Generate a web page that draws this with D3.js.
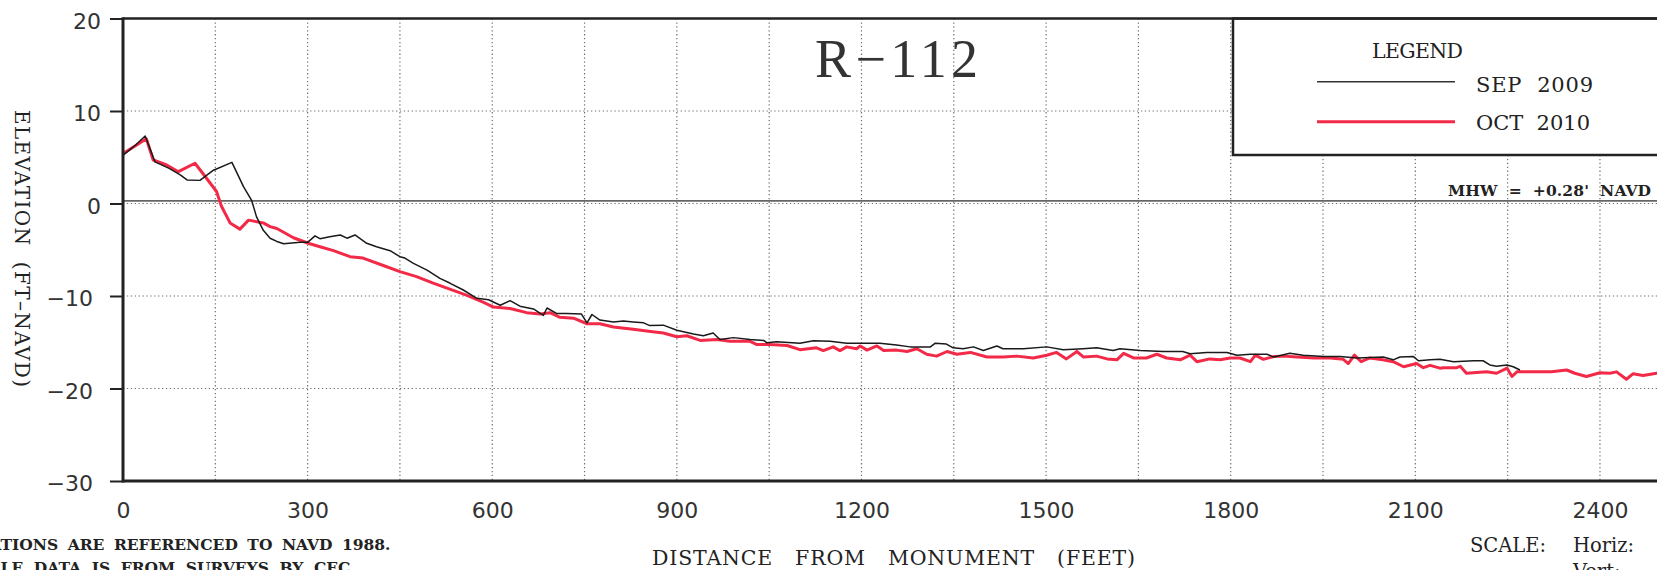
<!DOCTYPE html>
<html><head><meta charset="utf-8">
<script src="https://cdn.jsdelivr.net/npm/d3@7"></script>
<style>
html,body{margin:0;padding:0;background:#fff;overflow:hidden;}
svg{display:block;}
</style></head><body>
<svg id="chart" width="1657" height="570"></svg>
<script>
// ---------------- DATA ----------------
const sepDist = [0,20,36,52,75,93,104,125,147,177,196,209,217,228,239,250,261,288,300,312,320,336,353,364,377,396,412,434,450,458,472,494,515,531,553,575,594,613,629,645,667,683,689,705,721,745,754,762,775,797,813,829,846,856,878,900,927,943,959,970,992,1019,1041,1046,1062,1100,1122,1149,1176,1230,1257,1279,1312,1320,1338,1349,1365,1382,1398,1420,1430,1463,1501,1528,1560,1582,1609,1620,1653,1690,1722,1734,1761,1794,1810,1832,1859,1870,1896,1918,1951,1978,2005,2048,2064,2075,2097,2105,2124,2140,2162,2195,2210,2221,2232,2249,2259,2270];
const sepElev = [5.2,6.3,7.3,4.5,3.8,3.1,2.55,2.5,3.6,4.45,1.8,0.35,-1.45,-2.9,-3.76,-4.1,-4.35,-4.2,-4.2,-3.5,-3.8,-3.6,-3.4,-3.75,-3.4,-4.3,-4.67,-5.1,-5.75,-5.9,-6.47,-7.2,-8.1,-8.6,-9.35,-10.25,-10.4,-11.0,-10.5,-11.1,-11.4,-12.1,-11.3,-11.9,-11.9,-11.95,-12.9,-12.0,-12.6,-12.8,-12.7,-12.8,-12.9,-13.2,-13.15,-13.7,-14.1,-14.3,-14.0,-14.7,-14.5,-14.7,-14.8,-15.05,-14.95,-15.1,-14.85,-14.9,-15.1,-15.1,-15.3,-15.5,-15.5,-15.1,-15.2,-15.6,-15.7,-15.5,-15.9,-15.4,-15.7,-15.7,-15.5,-15.8,-15.7,-15.6,-15.9,-15.7,-15.9,-16.0,-16.0,-16.25,-16.1,-16.1,-16.4,-16.3,-16.3,-16.6,-16.2,-16.4,-16.55,-16.55,-16.7,-16.6,-16.9,-16.6,-16.55,-17.0,-16.9,-16.85,-17.1,-17.0,-17.0,-17.45,-17.6,-17.45,-17.65,-18.0];

const octDist = [0,17,38,49,71,90,117,136,152,160,174,190,204,228,239,250,277,301,320,342,369,390,423,450,477,504,531,558,586,602,629,656,678,694,710,732,754,775,797,829,854,878,900,916,938,965,986,1019,1030,1051,1079,1100,1127,1138,1154,1165,1176,1192,1198,1209,1225,1236,1257,1274,1290,1306,1322,1339,1355,1377,1404,1430,1452,1479,1501,1517,1533,1550,1561,1582,1599,1615,1626,1642,1663,1680,1696,1718,1734,1745,1766,1783,1799,1815,1832,1840,1853,1870,1886,1908,1935,1962,1983,1991,2001,2012,2026,2047,2064,2081,2102,2113,2124,2140,2146,2167,2173,2183,2216,2232,2249,2257,2265,2294,2321,2346,2359,2378,2400,2416,2427,2443,2454,2470,2492,2520];
const octElev = [5.4,6.1,7.0,4.7,4.16,3.44,4.35,2.7,1.3,-0.3,-2.1,-2.77,-1.8,-2.1,-2.5,-2.7,-3.7,-4.3,-4.67,-5.1,-5.75,-5.9,-6.7,-7.37,-7.9,-8.6,-9.25,-9.9,-10.7,-11.2,-11.35,-11.8,-11.95,-11.8,-12.3,-12.4,-13.0,-13.0,-13.35,-13.6,-13.8,-14.0,-14.4,-14.3,-14.8,-14.7,-14.9,-14.9,-15.25,-15.25,-15.35,-15.8,-15.6,-15.9,-15.5,-15.9,-15.5,-15.7,-15.4,-15.85,-15.4,-15.9,-15.85,-16.0,-15.7,-16.3,-16.5,-16.0,-16.3,-16.1,-16.6,-16.6,-16.5,-16.7,-16.4,-16.1,-16.8,-16.0,-16.6,-16.5,-16.8,-16.9,-16.2,-16.7,-16.7,-16.3,-16.7,-16.9,-16.4,-17.1,-16.8,-16.9,-16.7,-16.7,-17.1,-16.4,-16.85,-16.55,-16.5,-16.6,-16.7,-16.7,-16.85,-17.3,-16.4,-17.1,-16.7,-16.9,-17.1,-17.65,-17.3,-17.75,-17.5,-17.8,-17.75,-17.75,-17.6,-18.35,-18.2,-18.35,-17.8,-18.7,-18.2,-18.2,-18.2,-18.0,-18.35,-18.7,-18.3,-18.35,-18.2,-19.0,-18.4,-18.6,-18.35,-18.4];

const seriesNames = ["SEP  2009", "OCT  2010"];
const xTickValues = [0,300,600,900,1200,1500,1800,2100,2400];
const yTickValues = [20,10,0,-10,-20,-30];
const xGridValues = [150,300,450,600,750,900,1050,1200,1350,1500,1650,1800,1950,2100,2250,2400,2550];
const yGridValues = [10,0,-10,-20];
const mhwValue = 0.28;
const titleText = "R\u2212112";
const legendTitle = "LEGEND";
const mhwLabel = "MHW  =  +0.28'  NAVD";
const yAxisTitle = "ELEVATION  (FT\u2013NAVD)";
const xAxisTitle = "DISTANCE   FROM   MONUMENT   (FEET)";
const noteLines = ["ELEVATIONS ARE REFERENCED TO NAVD 1988.", "PROFILE DATA IS FROM SURVEYS BY CEC."];
const scaleLabels = ["SCALE:", "Horiz:", "Vert:"];

// ---------------- LAYOUT ----------------
const svg = d3.select("#chart");
const L = 123, T = 18.5, B = 481;
const xMax = 2550;
const R = L + xMax * 0.6154;
const x = d3.scaleLinear().domain([0, xMax]).range([L, R]);
const y = d3.scaleLinear().domain([-30, 20]).range([B, T]);

const ink = "#222";
const red = "#f32a47";
const serif = "'DejaVu Serif', serif";
const titleSerif = "'Liberation Serif', 'Times New Roman', serif";
const sans = "'DejaVu Sans', sans-serif";

// grid
const grid = svg.append("g").attr("stroke", "#6f6f6f").attr("stroke-width", 1.2).attr("stroke-dasharray", "1.3 2.6");
grid.selectAll("line.v").data(xGridValues).join("line").attr("class","v")
  .attr("x1", d => x(d)).attr("x2", d => x(d)).attr("y1", y(20)).attr("y2", y(-30));
grid.selectAll("line.h").data(yGridValues).join("line").attr("class","h")
  .attr("x1", x(0)).attr("x2", x(xMax)).attr("y1", d => y(d)).attr("y2", d => y(d));

// MHW line
svg.append("line").attr("x1", x(0)).attr("x2", x(xMax)).attr("y1", y(mhwValue)).attr("y2", y(mhwValue))
  .attr("stroke", "#666").attr("stroke-width", 1.6);

// data lines
const line = d3.line().x(d => x(d[0])).y(d => y(d[1]));
const sepData = sepDist.map((d, i) => [d, sepElev[i]]);
const octData = octDist.map((d, i) => [d, octElev[i]]);
svg.append("path").datum(octData).attr("d", line).attr("fill", "none")
  .attr("stroke", red).attr("stroke-width", 3).attr("stroke-linejoin", "round");
svg.append("path").datum(sepData).attr("d", line).attr("fill", "none")
  .attr("stroke", "#1a1a1a").attr("stroke-width", 1.5).attr("stroke-linejoin", "round");

// legend box
const lgX = 1233, lgB = 155;
svg.append("rect").attr("x", lgX).attr("y", T).attr("width", 1657 - lgX + 20).attr("height", lgB - T)
  .attr("fill", "#fff").attr("stroke", ink).attr("stroke-width", 2.5);
svg.append("text").attr("x", 1372).attr("y", 58).text(legendTitle)
  .attr("font-family", serif).attr("font-size", 20.5).attr("fill", ink).attr("textLength", 91).attr("lengthAdjust", "spacing");
const lgRows = [{name: seriesNames[0], color: "#333", w: 1.5, y: 81.7, ty: 92, tl: 117},
                {name: seriesNames[1], color: red, w: 3, y: 121.7, ty: 130, tl: 114}];
lgRows.forEach(r => {
  svg.append("line").attr("x1", 1317).attr("x2", 1455).attr("y1", r.y).attr("y2", r.y)
    .attr("stroke", r.color).attr("stroke-width", r.w);
  svg.append("text").attr("x", 1476).attr("y", r.ty).text(r.name).attr("xml:space", "preserve")
    .attr("font-family", serif).attr("font-size", 21).attr("fill", ink).attr("textLength", r.tl).attr("lengthAdjust", "spacing");
});

// frame
svg.append("line").attr("x1", x(0)).attr("x2", x(xMax)).attr("y1", y(20)).attr("y2", y(20)).attr("stroke", ink).attr("stroke-width", 2.5);
svg.append("line").attr("x1", x(0)).attr("x2", x(xMax)).attr("y1", y(-30)).attr("y2", y(-30)).attr("stroke", ink).attr("stroke-width", 3);
svg.append("line").attr("x1", x(0)).attr("x2", x(0)).attr("y1", y(20) - 1.2).attr("y2", y(-30) + 1.5).attr("stroke", ink).attr("stroke-width", 3);

// y axis
const yAxis = svg.append("g").attr("transform", `translate(${L},0)`)
  .call(d3.axisLeft(y).tickValues(yTickValues).tickSize(13).tickFormat(d3.format("d")));
yAxis.select(".domain").remove();
yAxis.selectAll(".tick line").attr("stroke", ink).attr("stroke-width", 2);
yAxis.selectAll(".tick text").attr("font-family", sans).attr("font-size", 22).attr("fill", "#333")
  .attr("x", d => d < 0 ? -30 : -22).attr("dy", "9.5");

// x axis
const xAxis = svg.append("g").attr("transform", `translate(0,${B})`)
  .call(d3.axisBottom(x).tickValues(xTickValues).tickSize(0).tickPadding(21).tickFormat(d3.format("d")));
xAxis.select(".domain").remove();
xAxis.selectAll(".tick text").attr("font-family", sans).attr("font-size", 22).attr("fill", "#333");

// title
svg.append("text").attr("x", 815).attr("y", 77).text(titleText)
  .attr("font-family", titleSerif).attr("font-size", 54).attr("fill", "#333").attr("textLength", 163).attr("lengthAdjust", "spacing");

// MHW label
svg.append("text").attr("x", 1448).attr("y", 196).text(mhwLabel).attr("xml:space", "preserve")
  .attr("font-family", serif).attr("font-weight", "bold").attr("font-size", 15.5).attr("fill", ink)
  .attr("textLength", 203).attr("lengthAdjust", "spacing");

// y axis title
svg.append("text").attr("transform", "translate(15,110) rotate(90)").text(yAxisTitle).attr("xml:space", "preserve")
  .attr("font-family", serif).attr("font-size", 20).attr("fill", ink).attr("textLength", 277).attr("lengthAdjust", "spacing");

// x axis title
svg.append("text").attr("x", 652).attr("y", 565).text(xAxisTitle).attr("xml:space", "preserve")
  .attr("font-family", serif).attr("font-size", 20.5).attr("fill", ink).attr("textLength", 483).attr("lengthAdjust", "spacing");

// notes (bottom-left, cut by the page edge as in the reference)
function note(txt, yy, cut, endX) {
  const t = svg.append("text").attr("y", yy).text(txt)
    .attr("font-family", serif).attr("font-weight", "bold").attr("font-size", 15.5).attr("fill", ink);
  const n = t.node();
  const full = n.getComputedTextLength();
  const pre = n.getSubStringLength(0, cut);
  const spaces = (txt.slice(cut).match(/ /g) || []).length;
  const ws = Math.max(0, (endX - (full - pre)) / spaces);
  t.attr("word-spacing", ws);
  const pre2 = n.getSubStringLength(0, cut);
  t.attr("x", 0.5 - pre2);
}
note(noteLines[0], 550, 5, 390);
note(noteLines[1], 573, 5, 355);

// scale labels
svg.append("text").attr("x", 1470).attr("y", 552).text(scaleLabels[0]).attr("font-family", serif).attr("font-size", 19.5).attr("fill", ink);
svg.append("text").attr("x", 1573).attr("y", 552).text(scaleLabels[1]).attr("font-family", serif).attr("font-size", 19.5).attr("fill", ink);
svg.append("text").attr("x", 1573).attr("y", 578).text(scaleLabels[2]).attr("font-family", serif).attr("font-size", 19.5).attr("fill", ink);
</script>
</body></html>
